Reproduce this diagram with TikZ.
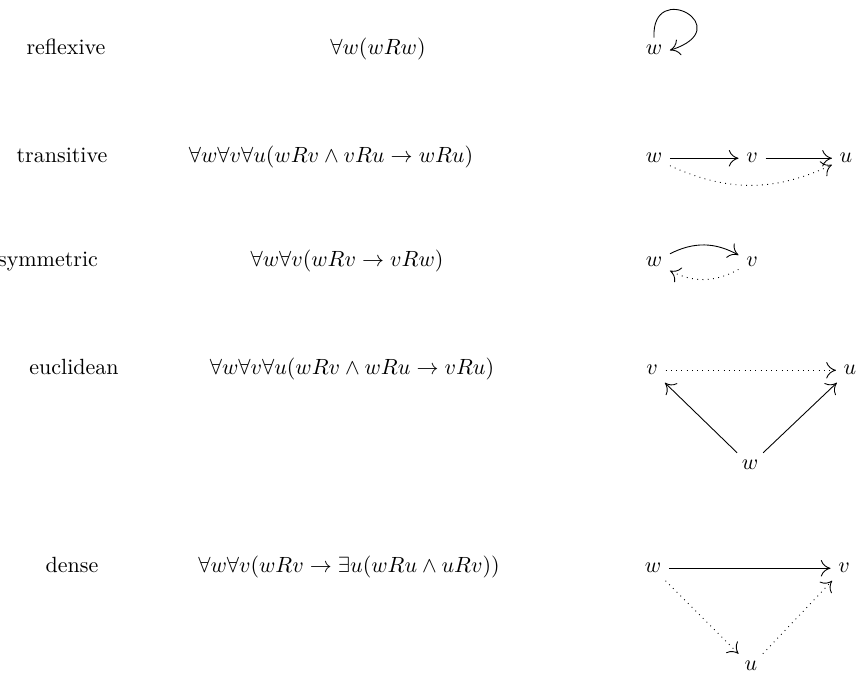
\documentclass[tikz,border=0pt]{standalone}
\usetikzlibrary{arrows.meta}
\begin{document}
\begin{tikzpicture}[x=0.4545pt,y=-0.4545pt,
  lbl/.style={anchor=base,inner sep=0pt},
  pt/.style={anchor=base},
  ar/.style={-{Computer Modern Rightarrow[length=4.4pt,width=7.5pt]}},
  dt/.style={ar,dotted}]
\useasboundingbox (0,0) rectangle (860,673);
% labels
\node[lbl] (l1) at (66,55) {reflexive};
\node[lbl] (l2) at (62,163) {transitive};
\node[lbl] (l3) at (48,267) {symmetric};
\node[lbl] (l4) at (74,375) {euclidean};
\node[lbl] (l5) at (72,573) {dense};
% formulas
\node[lbl] (f1) at (378,55) {$\forall w(wRw)$};
\node[lbl] (f2) at (331,163) {$\forall w\forall v\forall u(wRv\wedge vRu\rightarrow wRu)$};
\node[lbl] (f3) at (347,267) {$\forall w\forall v(wRv\rightarrow vRw)$};
\node[lbl] (f4) at (352,375) {$\forall w\forall v\forall u(wRv\wedge wRu\rightarrow vRu)$};
\node[lbl] (f5) at (349,573) {$\forall w\forall v(wRv\rightarrow \exists u(wRu\wedge uRv))$};
% reflexive
\node[pt] (w1) at (654,55) {$w$};
\draw[ar] (w1.north) .. controls +(-3,-60) and +(70,-22) .. (w1.east);
% transitive
\node[pt] (w2) at (654,163) {$w$};
\node[pt] (v2) at (752,163) {$v$};
\node[pt] (u2) at (846,163) {$u$};
\draw[ar] (w2) -- (v2);
\draw[ar] (v2) -- (u2);
\draw[dt] (w2) to[bend right=25] (u2);
% symmetric
\node[pt] (w3) at (654,267) {$w$};
\node[pt] (v3) at (752,267) {$v$};
\draw[ar] (w3) to[bend left=28] (v3);
\draw[dt] (v3) to[bend left=28] (w3);
% euclidean
\node[pt] (v4) at (652,375) {$v$};
\node[pt] (u4) at (850,375) {$u$};
\node[pt] (w4) at (750,470) {$w$};
\draw[dt] (v4) -- (u4);
\draw[ar] (w4) -- (v4);
\draw[ar] (w4) -- (u4);
% dense
\node[pt] (w5) at (653,573) {$w$};
\node[pt] (v5) at (844,573) {$v$};
\node[pt] (u5) at (751,671) {$u$};
\draw[ar] (w5) -- (v5);
\draw[dt] (w5) -- (u5);
\draw[dt] (u5) -- (v5);
\end{tikzpicture}
\end{document}
